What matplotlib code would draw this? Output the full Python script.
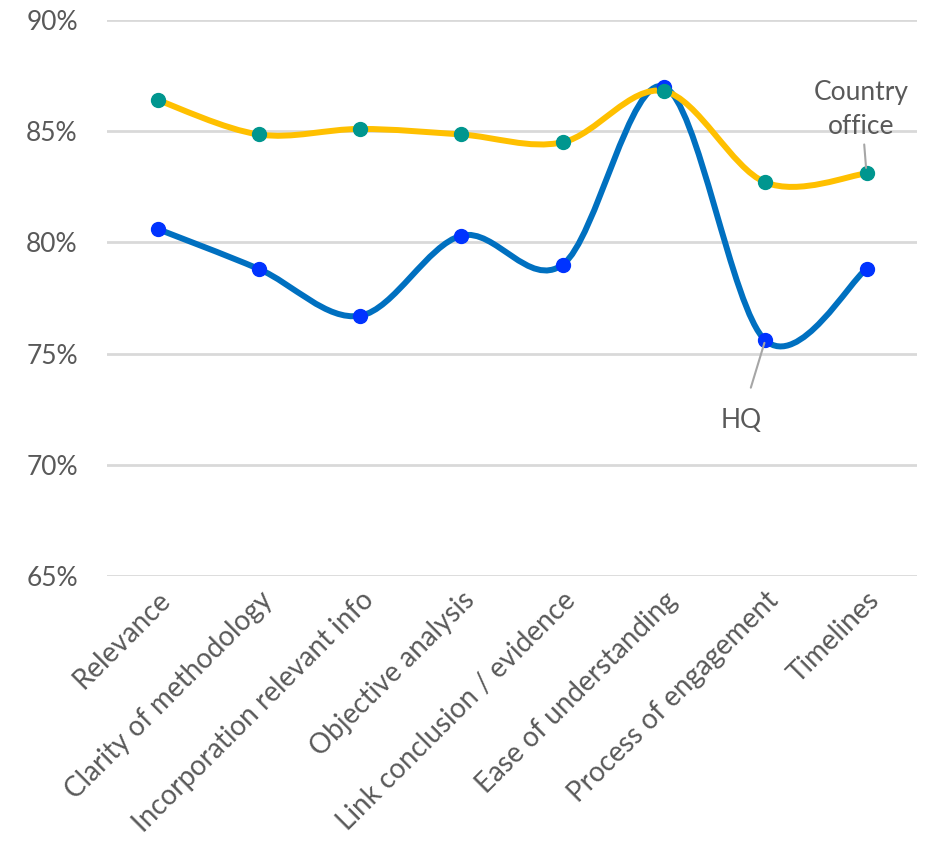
import matplotlib
matplotlib.use("Agg")
import matplotlib.pyplot as plt
from matplotlib.path import Path
from matplotlib.patches import PathPatch
from matplotlib.ticker import FuncFormatter
import numpy as np

categories = ["Relevance", "Clarity of methodology", "Incorporation relevant info",
              "Objective analysis", "Link conclusion / evidence",
              "Ease of understanding", "Process of engagement", "Timelines"]
country_office = [86.4, 84.85, 85.1, 84.85, 84.5, 86.8, 82.7, 83.1]
hq = [80.6, 78.8, 76.7, 80.3, 79.0, 87.0, 75.6, 78.8]

GREY = "#595959"
plt.rcParams["font.family"] = ["Lato", "DejaVu Sans"]


def smooth_path(xs, ys):
    # Excel-style smoothed line: cubic Bezier segments with 1/6 tangents
    pts = np.column_stack([xs, ys]).astype(float)
    n = len(pts)
    verts = [pts[0]]
    codes = [Path.MOVETO]
    for i in range(n - 1):
        p0 = pts[i - 1] if i > 0 else pts[i]
        p1 = pts[i]
        p2 = pts[i + 1]
        p3 = pts[i + 2] if i + 2 < n else pts[i + 1]
        c1 = p1 + (p2 - p0) / 6.0
        c2 = p2 - (p3 - p1) / 6.0
        verts += [c1, c2, p2]
        codes += [Path.CURVE4] * 3
    return Path(verts, codes)


fig = plt.figure(figsize=(9.33, 8.57), dpi=100)
ax = fig.add_axes([0.1147, 0.328, 0.8683, 0.6487])
x = np.arange(len(categories))

series = [
    (hq, "#0070C0", "#0033FF"),
    (country_office, "#FFC000", "#00968F"),
]
for vals, line_c, mark_c in series:
    ax.add_patch(PathPatch(smooth_path(x, vals), facecolor="none",
                           edgecolor=line_c, lw=4.3, capstyle="round", zorder=3))
    ax.plot(x, vals, linestyle="none", marker="o", ms=10,
            mfc=mark_c, mec=mark_c, zorder=4)

ax.set_xlim(-0.5, len(categories) - 0.5)
ax.set_ylim(65, 90)
ax.set_yticks(np.arange(65, 91, 5))
ax.yaxis.set_major_formatter(FuncFormatter(lambda v, p: f"{v:.0f}%"))
ax.grid(axis="y", color="#D9D9D9", lw=2)
ax.set_axisbelow(True)
for s in ax.spines.values():
    s.set_visible(False)
ax.tick_params(axis="y", length=0, labelsize=19, colors=GREY, pad=21)
ax.tick_params(axis="x", length=0, colors=GREY, pad=8)
ax.set_xticks(x)
ax.set_xticklabels(categories, rotation=45, ha="right",
                   rotation_mode="anchor", fontsize=20, color=GREY)

# series labels with leader lines
ax.annotate("Country\noffice", xy=(x[-1], country_office[-1]), xytext=(x[-1] - 0.05, 84.65),
            ha="center", va="bottom", fontsize=19, color=GREY, linespacing=1.45,
            arrowprops=dict(arrowstyle="-", color="#A6A6A6", lw=1.5,
                            shrinkA=2, shrinkB=4), zorder=5)
ax.annotate("HQ", xy=(x[-2], hq[-2]), xytext=(x[-2] - 0.24, 72.0),
            ha="center", va="center", fontsize=19, color=GREY,
            arrowprops=dict(arrowstyle="-", color="#A6A6A6", lw=1.5,
                            shrinkA=13, shrinkB=2), zorder=5)

fig.savefig("out.png", dpi=100)
